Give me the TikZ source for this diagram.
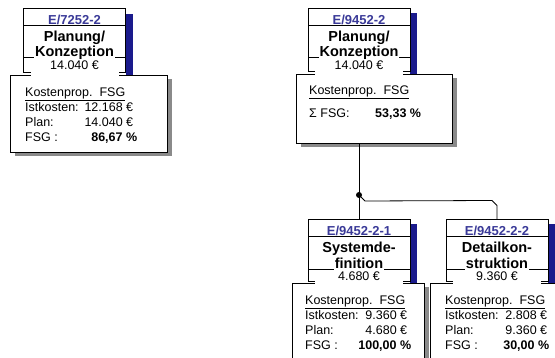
\documentclass[tikz,border=0pt]{standalone}
\usepackage{fontspec}
\setmainfont{Liberation Sans}
\usepackage{array}
\usepackage{tikz}
\usetikzlibrary{shadows}
\definecolor{titleblue}{HTML}{3A3A98}
\definecolor{navyshadow}{HTML}{1A1A8C}
\definecolor{boxshadow}{HTML}{8A8A8A}

\begin{document}
\begin{tikzpicture}[x=1pt,y=-1pt,
    topbox/.style={draw,line width=1pt,fill=white,minimum width=102pt,inner sep=0pt},
    detbox/.style={draw,line width=1pt,fill=white,inner sep=0pt,anchor=north west,
        drop shadow={shadow xshift=4pt,shadow yshift=-4pt,fill=boxshadow,opacity=1}},
    sepline/.style={line width=0.7pt},
    bshadow/.style={fill=navyshadow},
    idtext/.style={anchor=base,inner sep=0pt,text=titleblue,font=\fontsize{13}{15}\selectfont\bfseries},
    nametext/.style={anchor=base,fill=white,inner xsep=1pt,inner ysep=0pt,text depth=2pt,font=\fontsize{14.5}{15}\selectfont\bfseries},
    pricetext/.style={anchor=base,fill=white,inner sep=0pt,minimum width=88pt,text depth=4pt,font=\fontsize{12.5}{15}\selectfont},
    dettext/.style={anchor=north west,inner sep=0pt,font=\fontsize{12.5}{15}\selectfont},
    link/.style={line width=0.8pt}]
    \useasboundingbox (0,0) rectangle (555,358);
    \clip (0,0) rectangle (555,358);

    \node[detbox,minimum width=157pt,minimum height=77pt] (dtA) at (10,75) {};
    \fill[bshadow] (126,14) rectangle (133,75);
    \node[topbox,minimum height=64pt] (tbA) at (74.5,41) {};
    \draw[sepline] (23,25)--(126,25);
    \draw[sepline] (23,57)--(126,57);
    \node[idtext] (idA) at (74.5,24.5) {E/7252-2};
    \node[nametext] (nA1) at (74.5,42) {Planung/};
    \node[nametext] (nA2) at (74.5,57) {Konzeption};
    \node[pricetext,text depth=6.5pt] (pA) at (74.5,69.5) {14.040 €};
    \node[dettext] (kA) at (25,86) {\begin{tabular}{@{}p{56pt}@{}>{\raggedleft\arraybackslash}p{56pt}@{}}
        \multicolumn{2}{@{}l@{}}{\underline{Kostenprop.~~FSG}}\\
        Istkosten: & 12.168 €\kern4pt\\
        Plan: & 14.040 €\kern4pt\\
        FSG : & \textbf{86,67 \%}
    \end{tabular}};

    \node[detbox,minimum width=156pt,minimum height=69pt] (dtB) at (296,74) {};
    \fill[bshadow] (410,13) rectangle (417,74);
    \node[topbox,minimum height=63pt] (tbB) at (359,40.5) {};
    \draw[sepline] (308,25)--(410,25);
    \draw[sepline] (308,57)--(410,57);
    \node[idtext] (idB) at (359,24.5) {E/9452-2};
    \node[nametext] (nB1) at (359,42) {Planung/};
    \node[nametext] (nB2) at (359,57) {Konzeption};
    \node[pricetext,text depth=5pt] (pB) at (359,70) {14.040 €};
    \node[dettext] (kB) at (309,84) {\begin{tabular}{@{}p{66pt}@{}l@{}}
        \multicolumn{2}{@{}l@{}}{\underline{Kostenprop.~~FSG}}\\[8pt]
        Σ FSG: & \textbf{53,33 \%}
    \end{tabular}};

    \node[detbox,minimum width=132pt,minimum height=100pt] (dtC) at (292,283) {};
    \fill[bshadow] (410,224) rectangle (417,283);
    \node[topbox,minimum height=62pt] (tbC) at (359,251) {};
    \draw[sepline] (308,236)--(410,236);
    \draw[sepline] (308,269)--(410,269);
    \node[idtext] (idC) at (359,235.5) {E/9452-2-1};
    \node[nametext] (nC1) at (359,253) {Systemde-};
    \node[nametext] (nC2) at (359,269) {finition};
    \node[pricetext,text depth=3.5pt] (pC) at (359,281) {4.680 €};
    \node[dettext] (kC) at (305,294) {\begin{tabular}{@{}p{48pt}@{}>{\raggedleft\arraybackslash}p{58pt}@{}}
        \multicolumn{2}{@{}l@{}}{\underline{Kostenprop.~~FSG}}\\
        Istkosten: & 9.360 €\kern4pt\\
        Plan: & 4.680 €\kern4pt\\
        FSG : & \textbf{100,00 \%}
    \end{tabular}};

    \node[detbox,minimum width=140pt,minimum height=100pt] (dtD) at (430,283) {};
    \fill[bshadow] (548,224) rectangle (555,283);
    \node[topbox,minimum height=62pt] (tbD) at (497,251) {};
    \draw[sepline] (446,236)--(548,236);
    \draw[sepline] (446,269)--(548,269);
    \node[idtext] (idD) at (497,235.5) {E/9452-2-2};
    \node[nametext] (nD1) at (497,252.5) {Detailkon-};
    \node[nametext] (nD2) at (497,268.5) {struktion};
    \node[pricetext,text depth=4pt] (pD) at (497,280.5) {9.360 €};
    \node[dettext] (kD) at (445,294) {\begin{tabular}{@{}p{48pt}@{}>{\raggedleft\arraybackslash}p{56pt}@{}}
        \multicolumn{2}{@{}l@{}}{\underline{Kostenprop.~~FSG}}\\
        Istkosten: & 2.808 €\kern2pt\\
        Plan: & 9.360 €\kern2pt\\
        FSG : & \textbf{30,00 \%}
    \end{tabular}};

    \coordinate (jn) at (359,195);
    \draw[link] (dtB.south -| tbB.south)--(tbC.north);
    \draw[link] (jn)--++(6,6)--([xshift=-5pt,yshift=19pt]tbD.north)--([yshift=14pt]tbD.north)--(tbD.north);
    \fill (jn) circle (3pt);
\end{tikzpicture}
\end{document}
